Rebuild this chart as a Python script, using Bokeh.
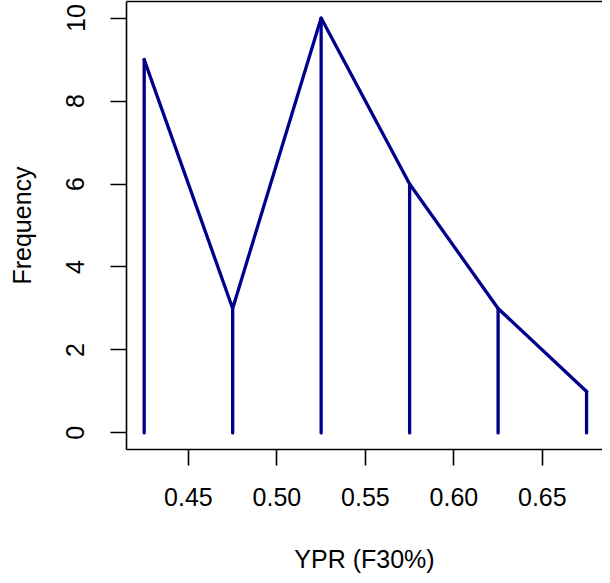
from bokeh.plotting import figure
from bokeh.models import LinearAxis, FixedTicker, Range1d, NumeralTickFormatter
from bokeh.embed import file_html
from bokeh.resources import INLINE

# data
x_values = [0.425, 0.475, 0.525, 0.575, 0.625, 0.675]
frequency = [9, 3, 10, 6, 3, 1]
x_ticks = [0.45, 0.50, 0.55, 0.60, 0.65]
y_ticks = [0, 2, 4, 6, 8, 10]
x_label = "YPR (F30%)"
y_label = "Frequency"

FONT = "Liberation Sans"
BLUE = "#00008B"

p = figure(width=602, height=575, output_backend="svg", toolbar_location=None,
           x_range=Range1d(0.415, 0.684), y_range=Range1d(-0.4, 10.4),
           min_border_left=126, min_border_right=0, min_border_top=1,
           min_border_bottom=126, x_axis_label=x_label, y_axis_label=y_label)
p.outline_line_color = None
p.grid.visible = False
p.background_fill_color = "white"
p.border_fill_color = "white"

base = [0 for _ in x_values]
p.segment(x0=x_values, y0=base, x1=x_values, y1=frequency,
          line_color=BLUE, line_width=3.3, line_cap="round")
p.line(x_values, frequency, line_color=BLUE, line_width=3.3,
       line_join="round", line_cap="round")

for ax in p.axis:
    ax.axis_line_width = 1.6
    ax.axis_line_color = "black"
    ax.major_tick_line_width = 1.6
    ax.major_tick_line_color = "black"
    ax.major_tick_out = 16
    ax.major_tick_in = 0
    ax.minor_tick_out = 0
    ax.minor_tick_in = 0
    ax.major_label_text_font = FONT
    ax.major_label_text_font_size = "25px"
    ax.major_label_text_color = "black"
    ax.axis_label_text_font = FONT
    ax.axis_label_text_font_size = "25px"
    ax.axis_label_text_font_style = "normal"
    ax.axis_label_text_color = "black"

p.xaxis.ticker = FixedTicker(ticks=x_ticks)
p.xaxis.formatter = NumeralTickFormatter(format="0.00")
p.xaxis.major_label_standoff = 22
p.xaxis.axis_label_standoff = 36

p.yaxis.ticker = FixedTicker(ticks=y_ticks)
p.yaxis.major_label_orientation = "vertical"
p.yaxis.major_label_standoff = 26
p.yaxis.axis_label_standoff = 28

top = LinearAxis(ticker=FixedTicker(ticks=[]), axis_line_width=1.6,
                 axis_line_color="black", major_tick_out=0, major_tick_in=0,
                 minor_tick_out=0, minor_tick_in=0, major_label_standoff=0,
                 major_label_text_font_size="0px")
p.add_layout(top, "above")

open("out.html", "w").write(file_html(p, INLINE))
